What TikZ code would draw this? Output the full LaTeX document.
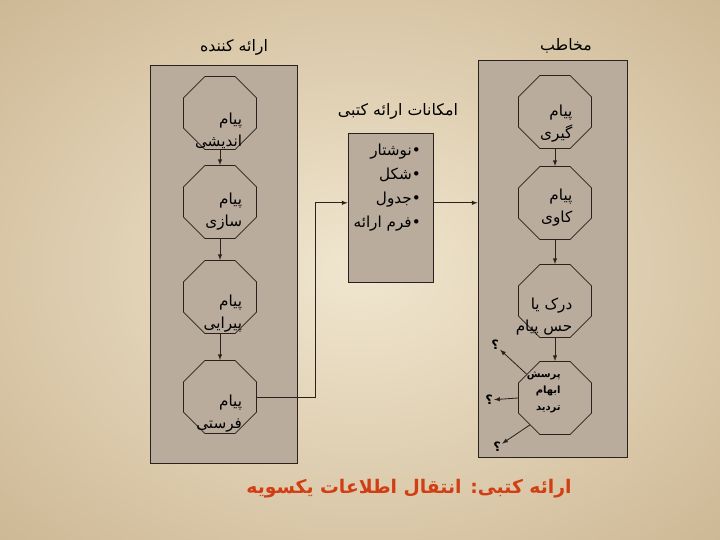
\documentclass[tikz,border=0pt]{standalone}
\usepackage{fontspec}
\usetikzlibrary{shapes.geometric}
\newfontfamily\farsi[Script=Arabic]{DejaVu Sans}
\TeXXeTstate=1
\newcommand{\rl}[1]{\beginR #1\endR}
\definecolor{parch}{RGB}{240,230,207}
\definecolor{parchdark}{RGB}{176,144,98}
\definecolor{panelfill}{RGB}{186,172,157}
\definecolor{inkline}{RGB}{40,33,28}
\definecolor{titlered}{RGB}{210,62,20}

\begin{document}
\begin{tikzpicture}[x=0.03cm,y=-0.03cm,
    panel/.style={draw=inkline,line width=0.7pt,fill=panelfill,inner sep=0pt},
    octo/.style={draw=inkline,line width=0.7pt,regular polygon,regular polygon sides=8,minimum size=2.37cm,inner sep=0pt},
    msg/.style={font=\farsi\fontsize{13}{19}\selectfont,align=right,anchor=east,inner sep=0pt},
    head/.style={font=\farsi\fontsize{13.5}{15}\selectfont},
    qmark/.style={font=\farsi\bfseries\fontsize{11}{12}\selectfont,inner sep=1pt},
    flow/.style={draw=inkline,line width=0.7pt,-latex}]
  \useasboundingbox (0,0) rectangle (720,540);
  % background sheet
  \shade[inner color=parch,outer color=parchdark] (-600,-450) rectangle (1320,990);

  % the three panels
  \node[panel,minimum width=4.41cm,minimum height=11.94cm] (send) at (223.5,264) {};
  \node[panel,minimum width=2.55cm,minimum height=4.47cm] (opt) at (390.5,207.5) {};
  \node[panel,minimum width=4.47cm,minimum height=11.91cm] (recv) at (552.5,258.5) {};
  \node[head] (sendh) at (234,47) {\rl{ارائه کننده}};
  \node[head] (opth) at (398,111) {\rl{امکانات ارائه کتبی}};
  \node[head] (recvh) at (566,46) {\rl{مخاطب}};

  % sender side
  \node[octo] (a1) at (220,113) {};
  \node[octo] (a2) at (220,202) {};
  \node[octo] (a3) at (220,297) {};
  \node[octo] (a4) at (220,397) {};
  \node[msg] (a1t) at ([xshift=19pt,yshift=-15pt]a1.center) {\rl{پیام}\\\rl{اندیشی}};
  \node[msg] (a2t) at ([xshift=19pt,yshift=-8pt]a2.center) {\rl{پیام}\\\rl{سازی}};
  \node[msg] (a3t) at ([xshift=19pt,yshift=-14pt]a3.center) {\rl{پیام}\\\rl{پیرایی}};
  \node[msg] (a4t) at ([xshift=19pt,yshift=-14pt]a4.center) {\rl{پیام}\\\rl{فرستی}};
  \foreach \X/\Y in {a1/a2,a2/a3,a3/a4}
    \draw[flow] (\X) -- (\Y);

  % written channel
  \node[msg,anchor=north east,font=\farsi\fontsize{13}{20.5}\selectfont] (optt) at (421,144) {\rl{•نوشتار}\\\rl{•شکل}\\\rl{•جدول}\\\rl{•فرم ارائه}};
  \draw[flow] (a4.east) -- ++(58,0) |- ([yshift=4pt]opt.west);
  \draw[flow] ([yshift=4pt]opt.east) -- ([yshift=4pt]opt.east -| recv.west);

  % receiver side
  \node[octo] (b1) at (555,112) {};
  \node[octo] (b2) at (555,203) {};
  \node[octo] (b3) at (555,301) {};
  \node[octo] (b4) at (555,398) {};
  \node[msg] (b1t) at ([xshift=15pt,yshift=-10pt]b1.center) {\rl{پیام}\\\rl{گیری}};
  \node[msg] (b2t) at ([xshift=15pt,yshift=-4pt]b2.center) {\rl{پیام}\\\rl{کاوی}};
  \node[msg] (b3t) at ([xshift=15pt,yshift=-13pt]b3.center) {\rl{درک یا}\\\rl{حس پیام}};
  \node[msg,font=\farsi\bfseries\fontsize{8.5}{14}\selectfont] (b4t) at ([xshift=5pt,yshift=5pt]b4.center) {\rl{پرسش}\\\rl{ابهام}\\\rl{تردید}};
  \foreach \X/\Y in {b1/b2,b2/b3,b3/b4}
    \draw[flow] (\X) -- (\Y);

  % open questions
  \node[qmark] (q1) at (495,345) {\rl{؟}};
  \node[qmark] (q2) at (489,400) {\rl{؟}};
  \node[qmark] (q3) at (497,447) {\rl{؟}};
  \draw[flow] (b4.140) -- (q1);
  \draw[flow] (b4.west) -- (q2);
  \draw[flow] (b4.227) -- (q3);

  \node[font=\farsi\bfseries\fontsize{16}{18}\selectfont,text=titlered] (title) at (409,489) {\rl{ارائه کتبی: انتقال اطلاعات یکسویه}};
\end{tikzpicture}
\end{document}
